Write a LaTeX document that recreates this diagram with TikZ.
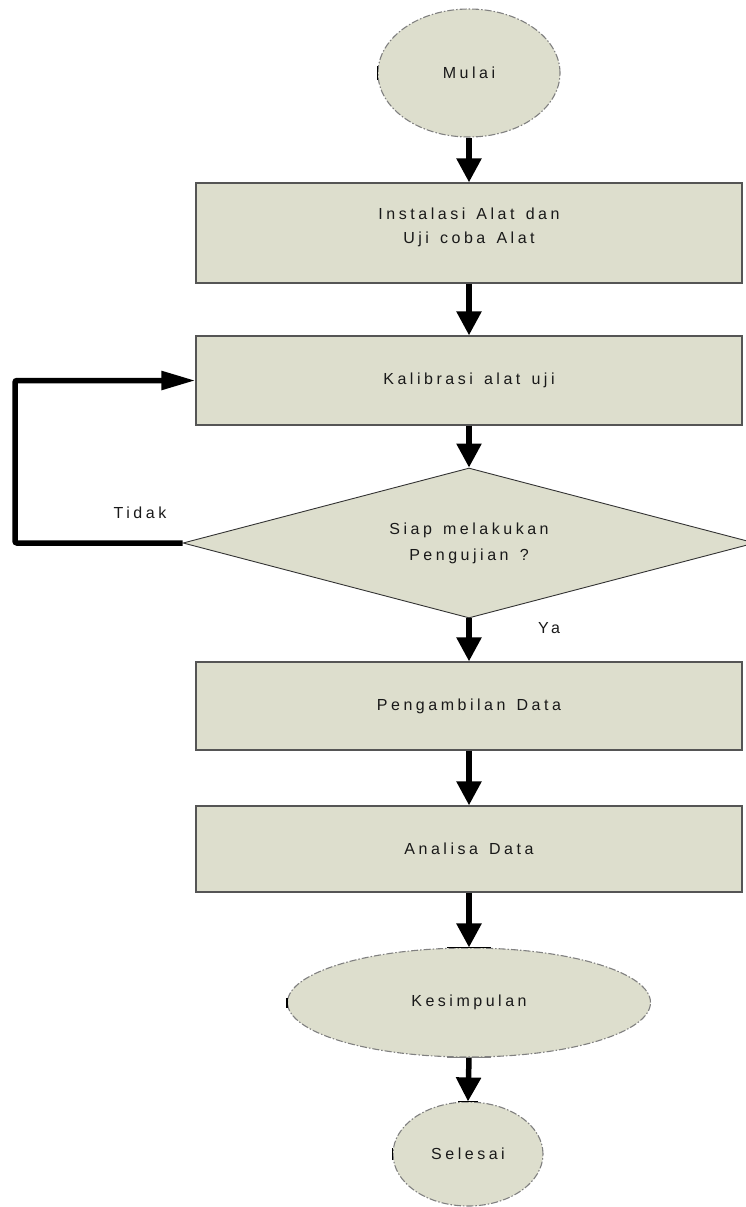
\documentclass[tikz,border=0pt]{standalone}
\usepackage{fontspec}
\setmainfont{Liberation Sans}[LetterSpace=22,WordSpace=1.4]
\usetikzlibrary{shapes.geometric,arrows.meta}
\definecolor{boxfill}{RGB}{221,222,205}
\definecolor{edgegray}{RGB}{85,85,85}
\begin{document}
\begin{tikzpicture}[x=1pt,y=-1pt,
  every node/.style={font=\fontsize{16}{24}\selectfont, align=center, text=black!90},
  procbox/.style={rectangle, draw=edgegray, line width=1.3pt, fill=boxfill, minimum width=546pt, inner sep=0pt},
  term/.style={ellipse, draw=gray, line width=1.1pt, dash pattern=on 7pt off 2pt on 1.5pt off 2pt, fill=boxfill, inner sep=0pt},
  decision/.style={diamond, draw=black!80, line width=0.9pt, fill=boxfill, shape aspect=3.8, inner sep=0pt, minimum width=572pt, minimum height=150pt},
  flow/.style={line width=5.5pt, -{Triangle[length=24pt,width=24pt]}},
  tick/.style={line width=1.6pt, black}
]
\useasboundingbox (0,0) rectangle (745,1207);

\node[term, minimum width=182pt, minimum height=128pt] (start) at (469,73) {Mulai};
\node[procbox, minimum height=100pt] (inst) at (469,233) {Instalasi Alat dan\\Uji coba Alat\\[-10pt]};
\node[procbox, minimum height=89pt] (kal) at (469,380.5) {Kalibrasi alat uji};
\node[decision] (siap) at (469,543) {Siap melakukan\\[2pt]Pengujian ?};
\node[procbox, minimum height=88pt] (ambil) at (469,706) {Pengambilan Data};
\node[procbox, minimum height=86pt] (anal) at (469,849) {Analisa Data};
\node[term, minimum width=363pt, minimum height=109pt] (kes) at (469,1002.5) {Kesimpulan};
\node[term, minimum width=150pt, minimum height=104pt] (end) at (468,1154) {Selesai};

\draw[flow] (start.south) -- (inst.north);
\draw[flow] (inst.south) -- (kal.north);
\draw[flow] (kal.south) -- (siap.north);
\draw[flow] (siap.south) -- (ambil.north);
\draw[flow] (ambil.south) -- (anal.north);
\draw[flow] (anal.south) -- (kes.north);
\draw[flow] (kes.south) -- (end.north);

\coordinate (loopx) at (15,543);
\draw[line width=5.5pt, rounded corners=2pt, -{Triangle[length=34pt,width=18pt]}]
  (siap.west) -- (loopx) |- (kal.west);

\node (tidak) at (140,513) {Tidak};
\node (ya) at (549,628) {Ya};

% small connection marks on the terminals
\draw[tick] ([yshift=-7pt]start.west) -- ([yshift=7pt]start.west);
\draw[tick] ([xshift=-22pt]kes.north) -- ([xshift=22pt]kes.north);
\draw[tick, gray] ([xshift=-22pt]kes.south) -- ([xshift=22pt]kes.south);
\draw[tick] ([yshift=-5pt]kes.west) -- ([yshift=5pt]kes.west);
\draw[tick] ([xshift=-10pt]end.north) -- ([xshift=10pt]end.north);
\draw[tick] ([yshift=-6pt]end.west) -- ([yshift=6pt]end.west);
\end{tikzpicture}
\end{document}
